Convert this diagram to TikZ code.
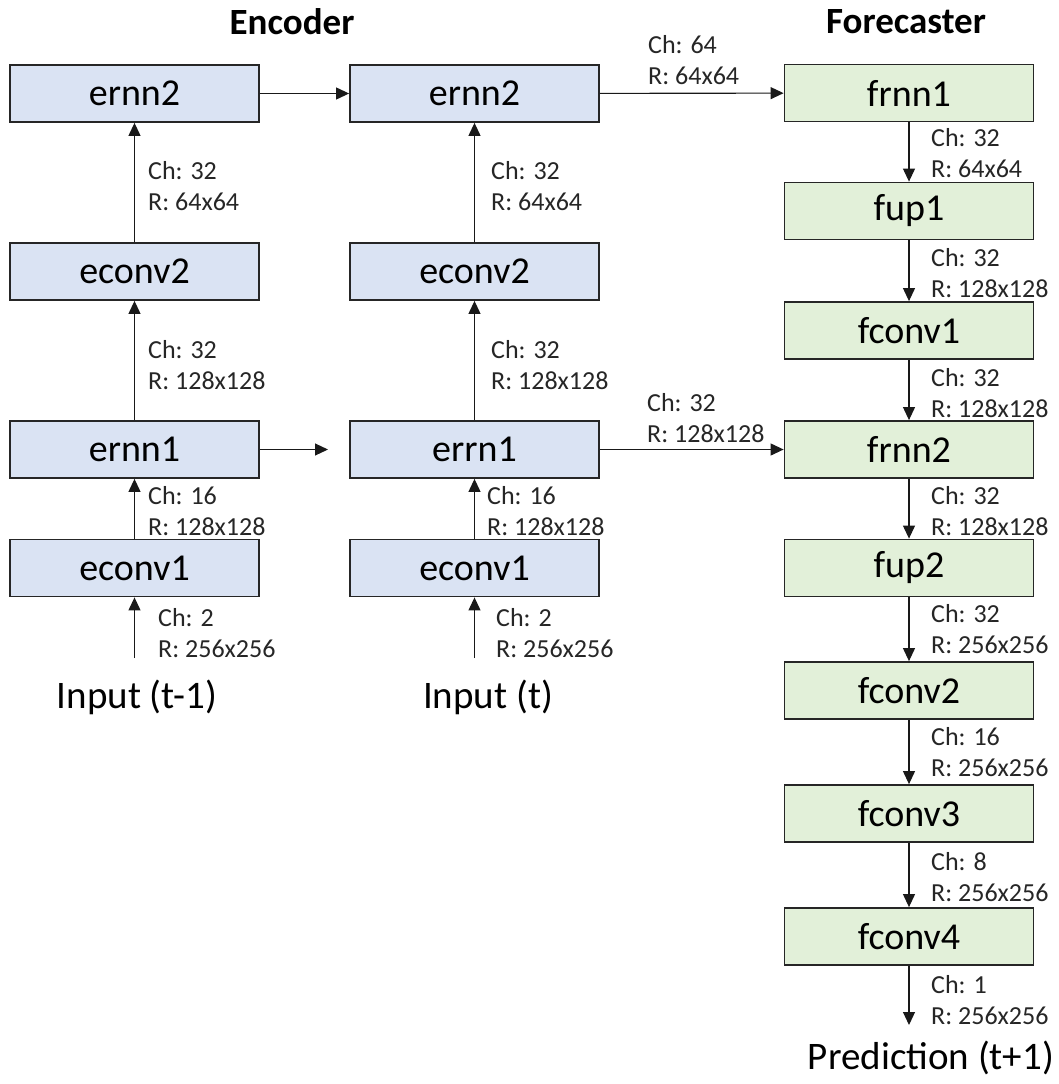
\documentclass[tikz,border=0pt]{standalone}
\usepackage{fontspec}
\setmainfont{Carlito}
\usetikzlibrary{arrows.meta}
\definecolor{encblue}{HTML}{DAE3F3}
\definecolor{fcgreen}{HTML}{E2F0D9}
\begin{document}
\begin{tikzpicture}[x=1pt,y=-1pt,
  blk/.style={draw=black!85, line width=1.8pt, minimum width=249pt, minimum height=57pt, inner sep=0pt, font=\fontsize{38}{38}\selectfont},
  encblk/.style={blk, fill=encblue},
  fcblk/.style={blk, fill=fcgreen},
  lbl/.style={anchor=west, align=left, inner sep=0pt, font=\fontsize{26}{31}\selectfont, text=black!85},
  title/.style={font=\fontsize{37}{37}\selectfont\bfseries},
  io/.style={font=\fontsize{39}{39}\selectfont, inner sep=0pt},
  arr/.style={-{Triangle[length=13pt,width=12pt]}, line width=1.1pt, draw=black!90}
]
\useasboundingbox (0,0) rectangle (1058,1084);
% titles
\node[title] (tenc) at (292,22) {Encoder};
\node[title] (tfc) at (906,22) {Forecaster};
% left encoder column
\node[encblk] (l2) at (134.5,93.5) {ernn2};
\node[encblk] (lc2) at (134.5,271.5) {econv2};
\node[encblk] (l1) at (134.5,449.5) {ernn1};
\node[encblk] (lc1) at (134.5,568) {econv1};
\node[io] (in1) at (137,697) {Input (t-1)};
\coordinate (in1top) at (134.5,658);
% middle encoder column
\node[encblk] (m2) at (474.5,93.5) {ernn2};
\node[encblk] (mc2) at (474.5,271.5) {econv2};
\node[encblk] (m1) at (474.5,449.5) {errn1};
\node[encblk] (mc1) at (474.5,568) {econv1};
\node[io] (in2) at (488,697) {Input (t)};
\coordinate (in2top) at (474.5,658);
\coordinate (l1end) at (328,449.5);
% forecaster column
\node[fcblk] (f1) at (909,93) {frnn1};
\node[fcblk] (f2) at (909,211) {fup1};
\node[fcblk] (f3) at (909,330.5) {fconv1};
\node[fcblk] (f4) at (909,449.5) {frnn2};
\node[fcblk] (f5) at (909,568) {fup2};
\node[fcblk] (f6) at (909,690.5) {fconv2};
\node[fcblk] (f7) at (909,813.5) {fconv3};
\node[fcblk] (f8) at (909,936.5) {fconv4};
\coordinate (fend) at (909,1025);
\node[io] (pred) at (931,1058) {Prediction (t+1)};
% encoder arrows
\draw[arr] (lc2) -- (l2);
\draw[arr] (l1) -- (lc2);
\draw[arr] (lc1) -- (l1);
\draw[arr] (in1top) -- (lc1);
\draw[arr] (mc2) -- (m2);
\draw[arr] (m1) -- (mc2);
\draw[arr] (mc1) -- (m1);
\draw[arr] (in2top) -- (mc1);
\draw[arr] (l2) -- (m2);
\draw[arr] (l1) -- (l1end);
\draw[arr] (m2) -- (f1);
\draw[arr] (m1) -- (f4);
% forecaster arrows
\draw[arr] (f1) -- (f2);
\draw[arr] (f2) -- (f3);
\draw[arr] (f3) -- (f4);
\draw[arr] (f4) -- (f5);
\draw[arr] (f5) -- (f6);
\draw[arr] (f6) -- (f7);
\draw[arr] (f7) -- (f8);
\draw[arr] (f8) -- (fend);
% labels left
\node[lbl] (la) at (148,186.5) {Ch: 32\\R: 64x64};
\node[lbl] (lb) at (148,365) {Ch: 32\\R: 128x128};
\node[lbl] (lcc) at (148,511) {Ch: 16\\R: 128x128};
\node[lbl] (ld) at (158,633) {Ch: 2\\R: 256x256};
% labels middle
\node[lbl] (ma) at (491,186.5) {Ch: 32\\R: 64x64};
\node[lbl] (mb) at (491,365) {Ch: 32\\R: 128x128};
\node[lbl] (mcc) at (487,511) {Ch: 16\\R: 128x128};
\node[lbl] (md) at (496,633) {Ch: 2\\R: 256x256};
% labels horizontal
\node[lbl] (ha) at (648,60) {Ch: 64\\R: 64x64};
\node[lbl] (hb) at (647,418) {Ch: 32\\R: 128x128};
% labels forecaster
\node[lbl] (fa) at (931,153.5) {Ch: 32\\R: 64x64};
\node[lbl] (fb) at (931,273.5) {Ch: 32\\R: 128x128};
\node[lbl] (fc) at (931,393.5) {Ch: 32\\R: 128x128};
\node[lbl] (fd) at (931,511) {Ch: 32\\R: 128x128};
\node[lbl] (fe) at (931,629.5) {Ch: 32\\R: 256x256};
\node[lbl] (ff) at (931,752.5) {Ch: 16\\R: 256x256};
\node[lbl] (fg) at (931,877.5) {Ch: 8\\R: 256x256};
\node[lbl] (fh) at (931,1000) {Ch: 1\\R: 256x256};
\end{tikzpicture}
\end{document}
